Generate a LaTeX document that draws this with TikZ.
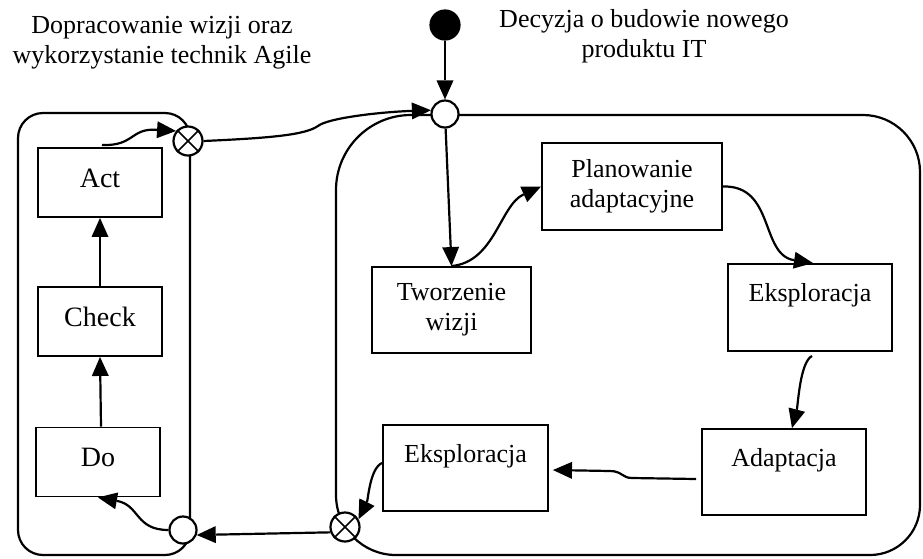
\documentclass[tikz,border=0pt]{standalone}
\usepackage{fontspec}
\setmainfont{Liberation Serif}
\usetikzlibrary{arrows.meta}
\begin{document}
\begin{tikzpicture}[x=1pt,y=-1pt,
  line width=2.2pt,
  every node/.style={font=\fontsize{26}{30}\selectfont, inner sep=0pt},
  stepbox/.style={draw, rectangle, line width=1.9pt, align=center},
  pdcabox/.style={stepbox, font=\fontsize{28}{32}\selectfont, text depth=9pt,
    minimum width=124pt, minimum height=69pt},
  arr/.style={-{Triangle[length=19pt,width=17pt,line width=0pt]}},
  junction/.style={circle, draw, fill=white, minimum size=27pt},
  crossjunction/.style={circle, draw, fill=white, minimum size=29pt},
  startdot/.style={circle, draw, fill=black, minimum size=29pt},
  caption/.style={align=center}
]
\useasboundingbox (0,0) rectangle (923,558);

% PDCA container (left)
\draw[rounded corners=25pt] (18,113) rectangle (190,555);

% Agile cycle container (right)
\draw (445,115) -- (863,115) arc[start angle=-90,end angle=0,radius=57]
  -- (920,505) arc[start angle=0,end angle=90,radius=50]
  -- (396,555) arc[start angle=90,end angle=180,radius=60]
  -- (336,190) arc[start angle=180,end angle=270,radius=75] -- cycle;

% captions
\node[caption] (leftcaption) at (162,43) {Dopracowanie wizji oraz\\wykorzystanie technik Agile};
\node[caption] (topcaption) at (644,36) {Decyzja o budowie nowego\\produktu IT};

% junctions
\node[startdot] (start) at (445,25) {};
\node[junction] (merge) at (445,114) {};
\node[crossjunction] (xtop) at (188,141) {};
\node[junction] (join) at (183,530) {};
\node[crossjunction] (xbot) at (345,527) {};
\foreach \j in {xtop,xbot}
  \draw[line width=1.7pt] (\j.45) -- (\j.225) (\j.135) -- (\j.315);

% PDCA boxes
\node[pdcabox] (act) at (100,182.5) {Act};
\node[pdcabox] (check) at (100,321.5) {Check};
\node[pdcabox] (do) at (98,462) {Do};

% Agile boxes
\node[stepbox, minimum width=159pt, minimum height=86pt] (vision) at (451.5,310) {Tworzenie\\wizji};
\node[stepbox, minimum width=180pt, minimum height=87pt] (plan) at (632,186.5) {Planowanie\\adaptacyjne};
\node[stepbox, minimum width=164pt, minimum height=87pt] (explore) at (810,307.5) {Eksploracja\\\mbox{}};
\node[stepbox, minimum width=164pt, minimum height=86pt] (adapt) at (784,472) {Adaptacja\\\mbox{}};
\node[stepbox, minimum width=165pt, minimum height=86pt] (review) at (465.5,468) {Eksploracja\\\mbox{}};

% connectors
\draw[arr] (start) -- (merge);
\draw[arr] (merge) -- (vision.north);
\draw[arr] (vision.north) .. controls (495,262) and (500,205) .. (plan.west);
\draw[arr] (plan.east) .. controls (775,185) and (760,255) .. ([xshift=3pt]explore.north);
\draw[arr] ([xshift=2pt,yshift=-4pt]explore.south) .. controls (800,362) and (798,405) .. ([xshift=8pt]adapt.north);
\draw[arr] ([xshift=-5pt,yshift=-7pt]adapt.west) -- (632,478)
  .. controls (622,478) and (622,471) .. (610,471) -- ([xshift=4pt,yshift=-2pt]review.east);
\draw[arr] ([yshift=5pt]review.west) .. controls (370,468) and (368,500) .. (xbot.30);
\draw[arr] (xbot.200) -- (join.340);
\draw[arr] (join.west) .. controls (135,530) and (140,505) .. (do.south);
\draw[arr] ([xshift=3pt]do.north) -- (check.south);
\draw[arr] (check.north) -- (act.south);
\draw[arr] ([xshift=2pt,yshift=2pt]act.north) .. controls (135,146) and (130,128) .. (xtop.140);
\draw[arr] (xtop.east) .. controls (270,138) and (305,135) .. (318,126)
  .. controls (328,118) and (380,112) .. (merge.165);
\end{tikzpicture}
\end{document}
